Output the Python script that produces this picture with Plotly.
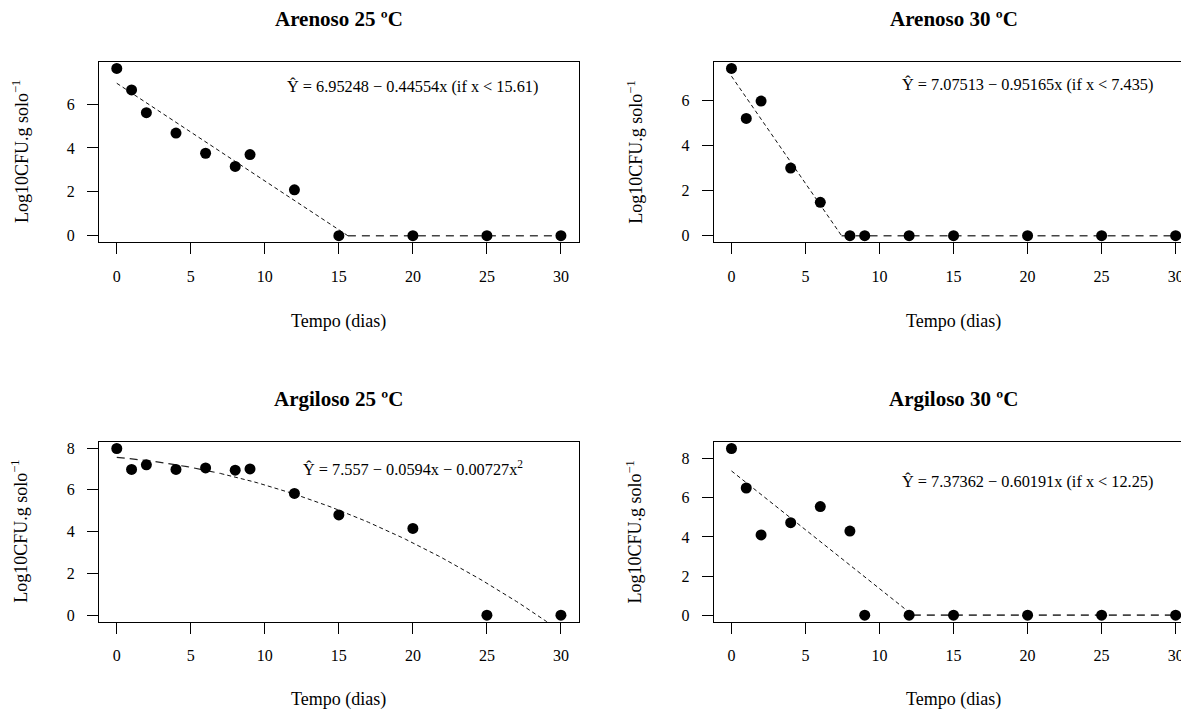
import numpy as np
import plotly.graph_objects as go

# ---------------- data ----------------
days = [0, 1, 2, 4, 6, 8, 9, 12, 15, 20, 25, 30]
arenoso_25 = [7.63, 6.65, 5.61, 4.68, 3.76, 3.16, 3.70, 2.09, 0, 0, 0, 0]
arenoso_30 = [7.42, 5.20, 5.97, 3.00, 1.48, 0, 0, 0, 0, 0, 0, 0]
argiloso_25 = [7.98, 6.98, 7.20, 6.98, 7.05, 6.94, 7.00, 5.83, 4.80, 4.15, 0, 0]
argiloso_30 = [8.52, 6.50, 4.10, 4.73, 5.55, 4.30, 0, 0, 0, 0, 0, 0]

panel_titles = ["Arenoso 25 ºC", "Arenoso 30 ºC", "Argiloso 25 ºC", "Argiloso 30 ºC"]
x_ticks = [0, 5, 10, 15, 20, 25, 30]
y_ticks_top = [0, 2, 4, 6]
y_ticks_bottom = [0, 2, 4, 6, 8]

# fitted models shown in the chart (coefficients as printed)
# piecewise linear: (intercept, slope, breakpoint)
fit_arenoso_25 = (6.95248, -0.44554, 15.61)
fit_arenoso_30 = (7.07513, -0.95165, 7.435)
fit_argiloso_30 = (7.37362, -0.60191, 12.25)
# quadratic: (b0, b1, b2)
fit_argiloso_25 = (7.557, -0.0594, -0.00727)

eq_labels = [
    "Ŷ = 6.95248 − 0.44554x (if x < 15.61)",
    "Ŷ = 7.07513 − 0.95165x (if x < 7.435)",
    "Ŷ = 7.557 − 0.0594x − 0.00727x<sup>2</sup>",
    "Ŷ = 7.37362 − 0.60191x (if x < 12.25)",
]
eq_y = [6.8, 6.72, 7.0, 6.83]
eq_x = 20

x_title = "Tempo (dias)"
y_title = "Log10CFU.g solo<sup>−1</sup>"

# ---------------- layout geometry (pixels) ----------------
OFF = 8                      # page body margin
W, H = 1189 - OFF, 713 - OFF
FONT = "Liberation Serif"

def fx(p):  # reference page px -> figure px
    return p - OFF

cols = [(fx(99), fx(578.7)), (fx(713.7), W)]
rows = [(fx(60), fx(241.7)), (fx(442.3), fx(623.3))]
px_per_day = (cols[0][1] - cols[0][0]) / 32.4
x_range_left = [-1.2, 31.2]
x_range_right = [-1.2, -1.2 + (cols[1][1] - cols[1][0]) / px_per_day]
col_centers = [(cols[0][0] + cols[0][1]) / 2, cols[1][0] + 32.4 * px_per_day / 2]

series = [arenoso_25, arenoso_30, argiloso_25, argiloso_30]
fig = go.Figure()

def add_dashed(fig, xs, ys, ax, dash, width, color):
    fig.add_trace(go.Scatter(x=xs, y=ys, mode="lines", xaxis="x" + ax, yaxis="y" + ax,
                             line=dict(color=color, width=width, dash=dash),
                             showlegend=False, hoverinfo="skip"))

annotations = []
for i, ys in enumerate(series):
    r, c = divmod(i, 2)
    ax = "" if i == 0 else str(i + 1)
    # fitted line
    if i == 2:
        b0, b1, b2 = fit_argiloso_25
        xa = np.linspace(0, 7, 29)
        xb = np.linspace(7, 30, 93)
        add_dashed(fig, xa, b0 + b1 * xa + b2 * xa ** 2, ax, "8px,5px", 1.2, "#222")
        add_dashed(fig, xb, b0 + b1 * xb + b2 * xb ** 2, ax, "4px,3px", 1, "#111")
    else:
        a, b, bp = [fit_arenoso_25, fit_arenoso_30, None, fit_argiloso_30][i]
        add_dashed(fig, [0, bp], [a, a + b * bp], ax, "4px,3px", 1, "#111")
        add_dashed(fig, [bp, 30], [0, 0], ax, "8px,6px", 1.6, "#444")
    fig.add_trace(go.Scatter(x=days, y=ys, mode="markers", xaxis="x" + ax, yaxis="y" + ax,
                             marker=dict(color="black", size=11),
                             showlegend=False))

    x0, x1 = cols[c]
    y0, y1 = rows[r]
    ymax = max(ys)
    xd = [x0 / W, x1 / W]
    yd = [1 - y1 / H, 1 - y0 / H]
    common = dict(showgrid=False, zeroline=False, showline=True, linecolor="black",
                  linewidth=1, ticks="outside", ticklen=11, tickcolor="black",
                  tickwidth=1, tickfont=dict(family=FONT, size=16, color="black"))
    fig.layout["xaxis" + ax] = dict(domain=xd, anchor="y" + ax,
                                    range=x_range_left if c == 0 else x_range_right,
                                    tickvals=x_ticks, mirror=True,
                                    ticklabelstandoff=8, **common)
    fig.layout["yaxis" + ax] = dict(domain=yd, anchor="x" + ax,
                                    range=[-0.04 * ymax, 1.04 * ymax],
                                    tickvals=y_ticks_top if r == 0 else y_ticks_bottom,
                                    mirror=(c == 0), ticklabelstandoff=9, **common)
    cx = col_centers[c] / W
    cy = 1 - (y0 + y1) / 2 / H
    annotations.append(dict(text="<b>" + panel_titles[i] + "</b>", x=cx,
                            y=1 - fx(17.5 if r == 0 else 399) / H,
                            xref="paper", yref="paper", showarrow=False,
                            xanchor="center", yanchor="middle",
                            font=dict(family=FONT, size=21, color="black")))
    annotations.append(dict(text=x_title, x=cx, y=1 - fx(321 if r == 0 else 701) / H,
                            xref="paper", yref="paper", showarrow=False,
                            xanchor="center", yanchor="middle",
                            font=dict(family=FONT, size=18, color="black")))
    annotations.append(dict(text=y_title, x=(x0 - 79) / W, y=cy, textangle=-90,
                            xref="paper", yref="paper", showarrow=False,
                            xanchor="center", yanchor="middle",
                            font=dict(family=FONT, size=18, color="black")))
    annotations.append(dict(text=eq_labels[i], x=eq_x, y=eq_y[i],
                            xref="x" + ax, yref="y" + ax, showarrow=False,
                            xanchor="center", yanchor="middle",
                            font=dict(family=FONT, size=16.3, color="black")))

fig.update_layout(width=W, height=H, margin=dict(l=0, r=0, t=0, b=0),
                  paper_bgcolor="white", plot_bgcolor="white",
                  annotations=annotations, showlegend=False)
fig.write_html("out.html")
